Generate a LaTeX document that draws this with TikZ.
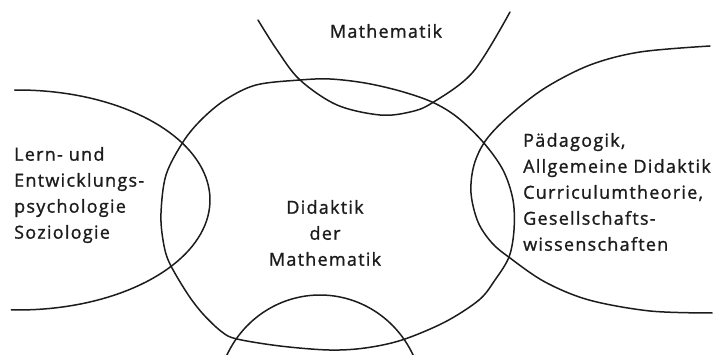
\documentclass[tikz,border=0pt]{standalone}
\usepackage{fontspec}
\setmainfont{Open Sans}[LetterSpace=7, FakeBold=1.2]
\begin{document}
\begin{tikzpicture}[x=1pt, y=-1pt, line cap=round, line join=round]
  \definecolor{Ink}{HTML}{1C1C1C}

  \tikzset{
    field/.style={draw=Ink, line width=1.5pt},
    area/.style={font=\fontsize{18}{26}\selectfont, text=Ink, inner sep=0pt}
  }

  \useasboundingbox (0,0) rectangle (716,355);

  % Central field
  \draw[field] plot[smooth cycle, tension=0.55] coordinates {
    (161,213) (166,175) (183,142) (201,120) (225,100) (256,85) (300,80)
    (330,79) (365,83) (400,91) (432,102) (457,117) (483,142) (503,170)
    (513,200) (514,230) (509,257) (495,280) (479,300) (445,322) (402,340)
    (365,348) (329,350) (280,346) (237,339) (222,332) (203,314) (187,293)
    (169,262) (163,240)
  };

  % Neighbouring fields: top, left, right, bottom
  \draw[field] plot[smooth, tension=0.55] coordinates {
    (258,20) (277,50) (300,80) (337,105) (380,115) (410,112) (432,103)
    (473,72) (510,12)
  };
  \draw[field] plot[domain=-91:92, samples=80] ({18+192*cos(\x)},{200+110*sin(\x)});
  \draw[field] plot[smooth, tension=0.55] coordinates {
    (710,46) (640,52) (590,65) (545,88) (510,115) (486,140) (474,165)
    (471,193) (478,222) (492,243) (510,258) (545,282) (589,300) (650,311)
    (712,313)
  };
  \draw[field] plot[domain=205:335, samples=60] ({320+103*cos(\x)},{400+105*sin(\x)});

  % Labels
  \node[area] (math) at (386,31) {Mathematik};
  \node[area, align=center] (didaktik) at (325,233) {Didaktik\\der\\Mathematik};
  \node[area, align=left, anchor=west] (psych) at (14,195)
    {Lern- und\\Entwicklungs-\\psychologie\\Soziologie};
  \node[area, align=left, anchor=west] (paed) at (523,192)
    {Pädagogik,\\Allgemeine Didaktik\\Curriculumtheorie,\\Gesellschafts-\\wissenschaften};
\end{tikzpicture}
\end{document}
